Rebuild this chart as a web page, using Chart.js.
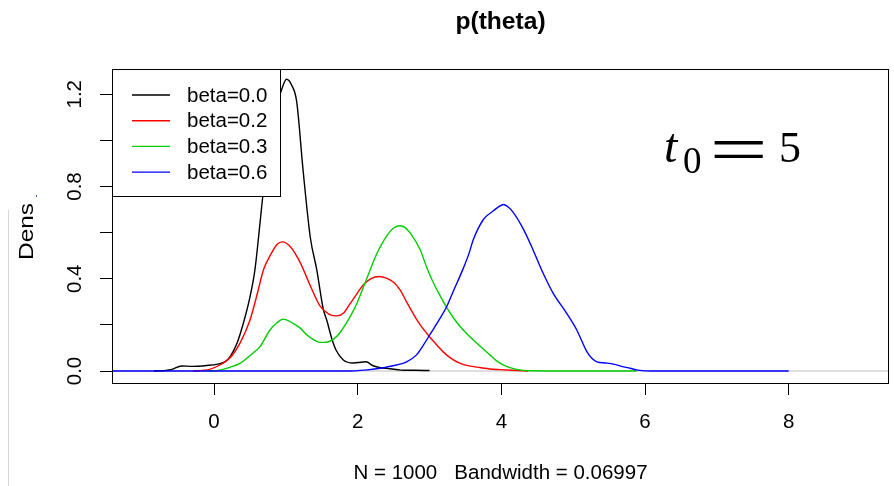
<!DOCTYPE html>
<html>
<head>
<meta charset="utf-8">
<script src="https://cdn.jsdelivr.net/npm/chart.js@4.4.1/dist/chart.umd.min.js"></script>
<style>
  html, body { margin: 0; padding: 0; background: #fff; }
  #wrap { position: relative; width: 894px; height: 486px; }
</style>
</head>
<body>
<div id="wrap"><canvas id="plot" width="894" height="486"></canvas></div>
<script>
// ---- data ----
const seriesLabels = ['beta=0.0', 'beta=0.2', 'beta=0.3', 'beta=0.6'];
const seriesColors = ['#000000', '#ff0000', '#00cd00', '#0000ff'];

const beta00X = [-0.84, -0.6, -0.45, -0.3, -0.1, 0.05, 0.15, 0.22, 0.32, 0.42, 0.5, 0.57, 0.64, 0.68, 0.75, 0.82, 0.88, 0.93, 1.01, 1.08, 1.15, 1.24, 1.34, 1.43, 1.52, 1.57, 1.64, 1.7, 1.8, 1.94, 2.05, 2.12, 2.2, 2.3, 2.45, 2.6, 2.8, 3.0];
const beta00Y = [0, 0.006, 0.022, 0.02, 0.024, 0.03, 0.04, 0.06, 0.12, 0.22, 0.32, 0.44, 0.64, 0.76, 0.93, 1.07, 1.16, 1.21, 1.265, 1.24, 1.17, 0.87, 0.58, 0.44, 0.27, 0.22, 0.14, 0.09, 0.048, 0.035, 0.038, 0.04, 0.025, 0.015, 0.01, 0.004, 0.003, 0.002];

const beta02X = [-0.29, -0.06, 0.08, 0.22, 0.36, 0.5, 0.59, 0.69, 0.78, 0.88, 0.95, 1.06, 1.2, 1.34, 1.48, 1.61, 1.71, 1.8, 1.89, 2.0, 2.08, 2.18, 2.3, 2.4, 2.5, 2.59, 2.68, 2.77, 2.87, 2.96, 3.08, 3.19, 3.3, 3.42, 3.55, 3.7, 3.84, 3.98, 4.15, 4.37];
const beta02Y = [0, 0.007, 0.026, 0.056, 0.12, 0.22, 0.32, 0.44, 0.5, 0.55, 0.56, 0.54, 0.47, 0.37, 0.28, 0.245, 0.239, 0.25, 0.29, 0.34, 0.374, 0.4, 0.41, 0.403, 0.385, 0.352, 0.3, 0.25, 0.2, 0.164, 0.12, 0.083, 0.055, 0.034, 0.022, 0.015, 0.009, 0.006, 0.003, 0];

const beta03X = [-0.1, 0.08, 0.22, 0.36, 0.54, 0.64, 0.78, 0.88, 0.96, 1.1, 1.2, 1.29, 1.38, 1.48, 1.57, 1.66, 1.75, 1.84, 1.92, 1.99, 2.12, 2.26, 2.4, 2.5, 2.59, 2.66, 2.73, 2.87, 2.96, 3.05, 3.15, 3.24, 3.33, 3.42, 3.54, 3.66, 3.84, 3.93, 4.03, 4.21, 4.4, 5.0, 5.88];
const beta03Y = [0, 0.004, 0.016, 0.033, 0.077, 0.106, 0.178, 0.21, 0.225, 0.207, 0.186, 0.157, 0.137, 0.124, 0.125, 0.137, 0.165, 0.207, 0.25, 0.294, 0.396, 0.504, 0.584, 0.62, 0.63, 0.622, 0.599, 0.526, 0.45, 0.385, 0.325, 0.275, 0.232, 0.195, 0.155, 0.12, 0.07, 0.045, 0.026, 0.007, 0.001, 0, 0];

const beta06X = [-1.6, 1.9, 2.1, 2.31, 2.54, 2.68, 2.82, 2.91, 3.01, 3.15, 3.24, 3.33, 3.47, 3.55, 3.61, 3.75, 3.89, 3.96, 4.03, 4.1, 4.17, 4.31, 4.44, 4.58, 4.72, 4.91, 5.05, 5.12, 5.19, 5.26, 5.33, 5.45, 5.56, 5.7, 5.79, 5.9, 6.1, 8.0];
const beta06Y = [0, 0, 0.004, 0.012, 0.026, 0.04, 0.07, 0.11, 0.16, 0.23, 0.28, 0.345, 0.445, 0.51, 0.57, 0.657, 0.695, 0.712, 0.722, 0.71, 0.686, 0.613, 0.526, 0.425, 0.338, 0.25, 0.178, 0.13, 0.084, 0.055, 0.04, 0.035, 0.03, 0.018, 0.012, 0.004, 0, 0];

const xTicks = [0, 2, 4, 6, 8];
const yTicks = [0, 0.2, 0.4, 0.6, 0.8, 1.0, 1.2];
const yTickLabels = ['0.0', '', '0.4', '', '0.8', '', '1.2'];
const xRange = [-1.42, 9.396];
const yRange = [-0.052, 1.3096];

const titleText = 'p(theta)';
const subText = 'N = 1000   Bandwidth = 0.06997';
const yTitleText = 'Dens';

const FONT = '"Liberation Sans", Arial, sans-serif';
const SERIF = '"Liberation Serif", "Times New Roman", serif';

function toPoints(xs, ys) {
  return xs.map((x, i) => ({ x: x, y: ys[i] }));
}

const allX = [beta00X, beta02X, beta03X, beta06X];
const allY = [beta00Y, beta02Y, beta03Y, beta06Y];

const datasets = seriesLabels.map((label, i) => ({
  label: label,
  data: toPoints(allX[i], allY[i]),
  borderColor: seriesColors[i],
  backgroundColor: seriesColors[i],
  borderWidth: 1.4,
  pointRadius: 0,
  showLine: true,
  fill: false,
  cubicInterpolationMode: 'monotone',
  order: 3 - i   // R draws later series on top
}));

// R-like frame, zero line, legend and texts
const rPlot = {
  id: 'rPlot',
  beforeDatasetsDraw(chart) {
    const { ctx, chartArea: a, scales } = chart;
    const y0 = scales.y.getPixelForValue(0);
    ctx.save();
    ctx.strokeStyle = '#bebebe';
    ctx.lineWidth = 1.2;
    ctx.beginPath();
    ctx.moveTo(a.left, y0);
    ctx.lineTo(a.right, y0);
    ctx.stroke();
    ctx.restore();
  },
  afterDatasetsDraw(chart) {
    const { ctx, chartArea: a } = chart;
    ctx.save();

    // legend box (opaque, top-left)
    const lx = a.left + 0.5, ly = a.top + 0.5, lw = 168, lh = 127;
    ctx.fillStyle = '#fff';
    ctx.fillRect(lx, ly, lw, lh);
    ctx.strokeStyle = '#000';
    ctx.lineWidth = 1;
    ctx.strokeRect(lx, ly, lw, lh);
    ctx.font = '20.5px ' + FONT;
    ctx.textBaseline = 'middle';
    ctx.textAlign = 'left';
    seriesLabels.forEach((lab, i) => {
      const yy = a.top + 26 + i * 25.7;
      ctx.strokeStyle = seriesColors[i];
      ctx.lineWidth = 1.4;
      ctx.beginPath();
      ctx.moveTo(a.left + 20, yy);
      ctx.lineTo(a.left + 58, yy);
      ctx.stroke();
      ctx.fillStyle = '#000';
      ctx.fillText(lab, a.left + 75, yy + 1);
    });

    // plot box
    ctx.strokeStyle = '#000';
    ctx.lineWidth = 1;
    ctx.strokeRect(a.left + 0.5, a.top + 0.5, a.right - a.left - 1, a.bottom - a.top);

    // title
    const cx = (a.left + a.right) / 2;
    ctx.fillStyle = '#000';
    ctx.textAlign = 'center';
    ctx.textBaseline = 'alphabetic';
    ctx.font = 'bold 24.6px ' + FONT;
    ctx.fillText(titleText, cx, 28.5);

    // sub title
    ctx.font = '20.5px ' + FONT;
    ctx.fillText(subText, cx, 479);

    // y title (cut off in the original)
    ctx.save();
    ctx.translate(33, 260);
    ctx.rotate(-Math.PI / 2);
    ctx.font = '21px ' + FONT;
    ctx.textAlign = 'left';
    const w = ctx.measureText(yTitleText).width;
    ctx.scale(57 / w, 1);
    ctx.fillText(yTitleText, 0, 0);
    ctx.restore();

    // stray marks of the original image
    ctx.strokeStyle = '#d6d6d6';
    ctx.lineWidth = 1;
    ctx.beginPath();
    ctx.moveTo(8.5, 210);
    ctx.lineTo(8.5, 486);
    ctx.stroke();
    ctx.fillStyle = '#3a4fb0';
    ctx.fillRect(36, 195, 1, 2);

    // t_0 = 5 annotation
    ctx.fillStyle = '#000';
    ctx.textAlign = 'left';
    ctx.font = 'italic 48px ' + SERIF;
    ctx.fillText('t', 664, 162);
    ctx.font = '37px ' + SERIF;
    ctx.fillText('0', 683, 173);
    ctx.save();
    ctx.font = '60px ' + SERIF;
    const m = ctx.measureText('=');
    const gw = m.actualBoundingBoxRight + m.actualBoundingBoxLeft;
    const gh = m.actualBoundingBoxAscent + m.actualBoundingBoxDescent;
    ctx.translate(713, 141);
    ctx.scale(50 / gw, 17 / gh);
    ctx.fillText('=', m.actualBoundingBoxLeft, m.actualBoundingBoxAscent);
    ctx.restore();
    ctx.font = '44px ' + SERIF;
    ctx.fillText('5', 779, 162);

    ctx.restore();
  }
};

new Chart(document.getElementById('plot'), {
  type: 'scatter',
  data: { datasets: datasets },
  options: {
    responsive: false,
    animation: false,
    devicePixelRatio: 1,
    layout: { padding: { left: 0, top: 69, right: 5, bottom: 0 } },
    plugins: { legend: { display: false }, tooltip: { enabled: false }, title: { display: false } },
    scales: {
      x: {
        type: 'linear',
        min: xRange[0],
        max: xRange[1],
        afterBuildTicks: s => { s.ticks = xTicks.map(v => ({ value: v })); },
        afterFit: s => { s.height = 103; },
        ticks: {
          autoSkip: false,
          maxRotation: 0,
          padding: 15,
          color: '#000',
          font: { family: FONT, size: 20.5 },
          callback: v => String(v)
        },
        grid: { drawOnChartArea: false, drawTicks: true, tickLength: 12, color: '#000', lineWidth: 1 },
        border: { display: false }
      },
      y: {
        type: 'linear',
        min: yRange[0],
        max: yRange[1],
        afterBuildTicks: s => { s.ticks = yTicks.map(v => ({ value: v })); },
        afterFit: s => { s.width = 112; },
        ticks: {
          autoSkip: false,
          minRotation: 90,
          maxRotation: 90,
          crossAlign: 'center',
          padding: 10,
          color: '#000',
          font: { family: FONT, size: 20.5 },
          callback: (v, i) => yTickLabels[i]
        },
        grid: { drawOnChartArea: false, drawTicks: true, tickLength: 12, color: '#000', lineWidth: 1 },
        border: { display: false }
      }
    }
  },
  plugins: [rPlot]
});
</script>
</body>
</html>
